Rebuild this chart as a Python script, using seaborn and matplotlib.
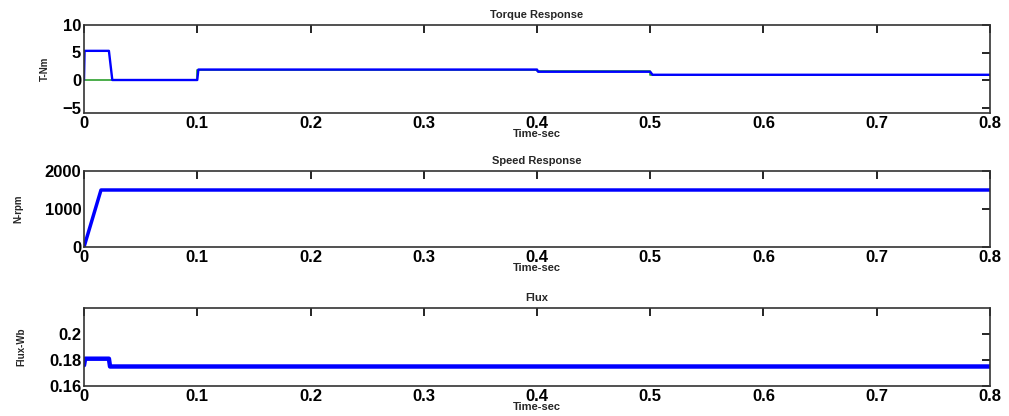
import matplotlib
matplotlib.use("Agg")
import matplotlib.pyplot as plt
import seaborn as sns

# ---- data ----
torque_t = [0.0, 0.0005, 0.022, 0.025, 0.1, 0.101, 0.4, 0.401, 0.5, 0.502, 0.8]
torque_actual = [0.0, 5.3, 5.3, 0.0, 0.0, 1.9, 1.9, 1.5, 1.5, 0.95, 0.95]
ref_t = [0.0, 0.1, 0.1, 0.4, 0.4, 0.5, 0.5, 0.8]
torque_ref = [0.0, 0.0, 1.9, 1.9, 1.6, 1.6, 1.0, 1.0]

speed_t = [0.0, 0.015, 0.8]
speed_rpm = [0.0, 1500.0, 1500.0]

flux_t = [0.0, 0.001, 0.022, 0.023, 0.8]
flux_wb = [0.176, 0.181, 0.181, 0.175, 0.175]

xticks = [0, 0.1, 0.2, 0.3, 0.4, 0.5, 0.6, 0.7, 0.8]
xticklabels = ["0", "0.1", "0.2", "0.3", "0.4", "0.5", "0.6", "0.7", "0.8"]

sns.set_style("white")
plt.rcParams["font.family"] = ["Liberation Sans", "DejaVu Sans"]

fig = plt.figure(figsize=(10.09, 4.16), dpi=100)
W, H = 1009, 416

def make_ax(top, bottom):
    return fig.add_axes([84 / W, 1 - bottom / H, (990 - 84) / W, (bottom - top) / H])

ax1 = make_ax(25, 113)
ax2 = make_ax(171, 247)
ax3 = make_ax(308, 386)

sns.lineplot(x=ref_t, y=torque_ref, ax=ax1, color="#2ca02c", lw=1.2, estimator=None, sort=False)
sns.lineplot(x=torque_t, y=torque_actual, ax=ax1, color="#0000ff", lw=1.7, estimator=None, sort=False)
sns.lineplot(x=speed_t, y=speed_rpm, ax=ax2, color="#0000ff", lw=2.5, estimator=None, sort=False)
sns.lineplot(x=flux_t, y=flux_wb, ax=ax3, color="#0000ff", lw=3.2, estimator=None, sort=False)

specs = [
    (ax1, "Torque Response", "T-Nm", (-6, 10), [-5, 0, 5, 10], ["\u22125", "0", "5", "10"], 9),
    (ax2, "Speed Response", "N-rpm", (0, 2000), [0, 1000, 2000], ["0", "1000", "2000"], 15),
    (ax3, "Flux", "Flux-Wb", (0.16, 0.22), [0.16, 0.18, 0.2], ["0.16", "0.18", "0.2"], 16),
]
for ax, title, ylab, ylim, yt, ytl, lp in specs:
    ax.set_xlim(0, 0.8)
    ax.set_ylim(*ylim)
    ax.set_xticks(xticks)
    ax.set_xticklabels(xticklabels, fontsize=12, fontweight="bold")
    ax.set_yticks(yt)
    ax.set_yticklabels(ytl, fontsize=12, fontweight="bold")
    ax.tick_params(direction="in", length=6, width=1.2, top=True, right=True, pad=2, colors="black")
    for s in ax.spines.values():
        s.set_color("#333333")
        s.set_linewidth(1.2)
    ax.set_title(title, fontsize=8, fontweight="bold", pad=5)
    ax.set_xlabel("Time-sec", fontsize=8, fontweight="bold", labelpad=-1)
    ax.set_ylabel(ylab, fontsize=7, fontweight="bold", labelpad=lp)

fig.savefig("out.png", dpi=100)
